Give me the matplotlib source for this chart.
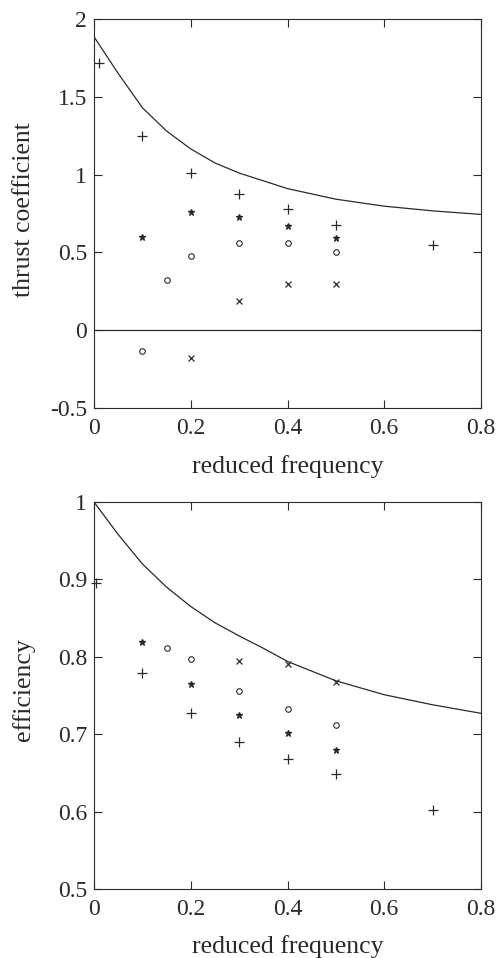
import matplotlib
matplotlib.use("Agg")
import matplotlib.pyplot as plt

plt.rcParams['font.family'] = ['Liberation Serif', 'DejaVu Serif']
INK = '#2a2a2a'

# theory curves
k_curve = [0, 0.05, 0.1, 0.15, 0.2, 0.25, 0.3, 0.35, 0.4, 0.5, 0.6, 0.7, 0.8]
ct_curve = [1.886, 1.65, 1.43, 1.28, 1.165, 1.075, 1.01, 0.96, 0.91, 0.842, 0.797, 0.767, 0.744]
eta_curve = [1.0, 0.958, 0.92, 0.89, 0.865, 0.844, 0.827, 0.811, 0.794, 0.769, 0.751, 0.738, 0.727]

# thrust coefficient data, one list per marker
ct_plus_k = [0.01, 0.1, 0.2, 0.3, 0.4, 0.5, 0.7]
ct_plus = [1.72, 1.25, 1.01, 0.875, 0.78, 0.675, 0.55]
ct_star_k = [0.1, 0.2, 0.3, 0.4, 0.5]
ct_star = [0.60, 0.76, 0.725, 0.67, 0.59]
ct_circ_k = [0.1, 0.15, 0.2, 0.3, 0.4, 0.5]
ct_circ = [-0.135, 0.32, 0.48, 0.56, 0.56, 0.50]
ct_x_k = [0.2, 0.3, 0.4, 0.5]
ct_x = [-0.18, 0.185, 0.295, 0.30]

# efficiency data
eta_plus_k = [0.005, 0.1, 0.2, 0.3, 0.4, 0.5, 0.7]
eta_plus = [0.895, 0.779, 0.727, 0.69, 0.668, 0.648, 0.602]
eta_star_k = [0.1, 0.2, 0.3, 0.4, 0.5]
eta_star = [0.819, 0.765, 0.725, 0.701, 0.68]
eta_circ_k = [0.15, 0.2, 0.3, 0.4, 0.5]
eta_circ = [0.811, 0.797, 0.756, 0.733, 0.712]
eta_x_k = [0.3, 0.4, 0.5]
eta_x = [0.795, 0.791, 0.768]

xticks = [0, 0.2, 0.4, 0.6, 0.8]
xticklabels = ['0', '0.2', '0.4', '0.6', '0.8']
ct_ticks = [-0.5, 0, 0.5, 1, 1.5, 2]
ct_ticklabels = ['-0.5', '0', '0.5', '1', '1.5', '2']
eta_ticks = [0.5, 0.6, 0.7, 0.8, 0.9, 1.0]
eta_ticklabels = ['0.5', '0.6', '0.7', '0.8', '0.9', '1']


def draw_points(ax, sets):
    for kk, vv, m, ms in sets:
        if m == 'o':
            ax.plot(kk, vv, linestyle='none', marker='o', ms=ms, mfc='none',
                    mec=INK, mew=0.8, clip_on=False)
        else:
            ax.plot(kk, vv, linestyle='none', marker=m, ms=ms, color=INK,
                    mew=0.9, clip_on=False)


def style(ax, yticks, ylabels, ylabel, ylab_y):
    ax.set_xlim(0, 0.8)
    ax.set_xticks(xticks)
    ax.set_xticklabels(xticklabels)
    ax.set_yticks(yticks)
    ax.set_yticklabels(ylabels)
    ax.set_ylim(yticks[0], yticks[-1])
    ax.tick_params(direction='in', length=6, width=0.8, top=True, right=True,
                   labelsize=17, colors=INK)
    ax.tick_params(axis='x', pad=7)
    ax.tick_params(axis='y', pad=5)
    for s in ax.spines.values():
        s.set_linewidth(0.8)
        s.set_color(INK)
    ax.set_xlabel('reduced frequency', fontsize=18.5, color=INK)
    ax.xaxis.set_label_coords(0.5, -0.12)
    ax.set_ylabel(ylabel, fontsize=18.5, color=INK)
    ax.yaxis.set_label_coords(-0.152, ylab_y)


fig = plt.figure(figsize=(4.98, 9.58), dpi=100)
ax1 = fig.add_axes([94 / 498, 1 - 408 / 958, 387 / 498, 389 / 958])
ax2 = fig.add_axes([94 / 498, 1 - 889 / 958, 387 / 498, 387 / 958])

ax1.plot(k_curve, ct_curve, color=INK, lw=0.9)
ax1.axhline(0, color=INK, lw=0.9)
draw_points(ax1, [(ct_plus_k, ct_plus, '+', 7), (ct_star_k, ct_star, '*', 4.5),
                  (ct_circ_k, ct_circ, 'o', 4), (ct_x_k, ct_x, 'x', 4.5)])
style(ax1, ct_ticks, ct_ticklabels, 'thrust coefficient', 0.509)

ax2.plot(k_curve, eta_curve, color=INK, lw=0.9)
draw_points(ax2, [(eta_plus_k, eta_plus, '+', 7), (eta_star_k, eta_star, '*', 4.5),
                  (eta_circ_k, eta_circ, 'o', 4), (eta_x_k, eta_x, 'x', 4.5)])
style(ax2, eta_ticks, eta_ticklabels, 'efficiency', 0.514)

fig.savefig('out.png', dpi=100)
